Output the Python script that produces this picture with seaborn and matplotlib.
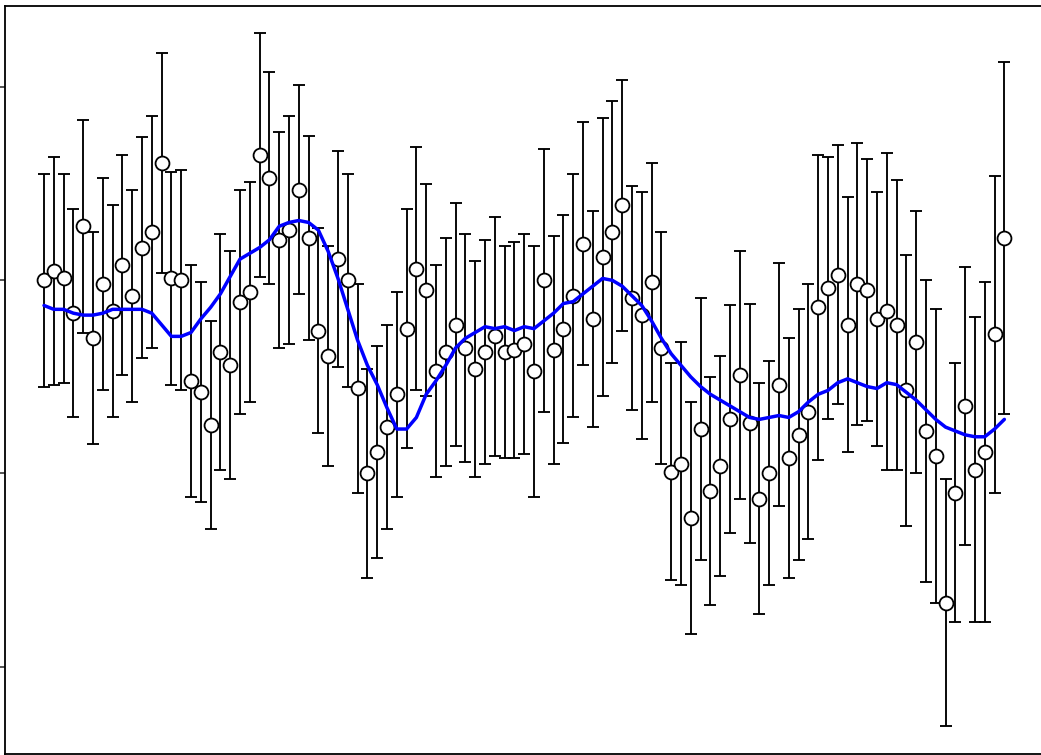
import numpy as np
import pandas as pd
import matplotlib
matplotlib.use("Agg")
import matplotlib.pyplot as plt
import seaborn as sns

values = [
    1.00, 1.05, 1.01, 0.83, 1.28, 0.70, 0.98, 0.84, 1.08, 0.92,
    1.17, 1.25, 1.61, 1.01, 1.00, 0.48, 0.42, 0.25, 0.63, 0.56,
    0.89, 0.94, 1.65, 1.53, 1.21, 1.26, 1.47, 1.22, 0.74, 0.61,
    1.11, 1.00, 0.44, 0.00, 0.11, 0.24, 0.41, 0.75, 1.06, 0.95,
    0.53, 0.63, 0.77, 0.65, 0.54, 0.63, 0.71, 0.63, 0.64, 0.67,
    0.53, 1.00, 0.64, 0.75, 0.92, 1.19, 0.80, 1.12, 1.25, 1.39,
    0.91, 0.82, 0.99, 0.65, 0.01, 0.05, -0.23, 0.23, -0.09, 0.04,
    0.28, 0.51, 0.26, -0.13, 0.00, 0.46, 0.08, 0.20, 0.32, 0.86,
    0.96, 1.03, 0.77, 0.98, 0.95, 0.80, 0.84, 0.77, 0.43, 0.68,
    0.22, 0.09, -0.67, -0.10, 0.35, 0.02, 0.11, 0.72, 1.22,
]

# symmetric error half-widths
errors = [
    0.55, 0.59, 0.54, 0.54, 0.55, 0.55, 0.55, 0.55, 0.57, 0.55,
    0.57, 0.60, 0.57, 0.55, 0.57, 0.60, 0.57, 0.54, 0.61, 0.59,
    0.58, 0.57, 0.63, 0.55, 0.56, 0.59, 0.54, 0.53, 0.53, 0.57,
    0.56, 0.55, 0.54, 0.54, 0.55, 0.53, 0.53, 0.62, 0.63, 0.55,
    0.55, 0.59, 0.63, 0.59, 0.56, 0.58, 0.62, 0.55, 0.56, 0.57,
    0.65, 0.68, 0.59, 0.59, 0.63, 0.63, 0.56, 0.72, 0.68, 0.65,
    0.58, 0.64, 0.62, 0.60, 0.56, 0.63, 0.60, 0.68, 0.59, 0.57,
    0.59, 0.64, 0.62, 0.60, 0.58, 0.63, 0.62, 0.65, 0.66, 0.79,
    0.68, 0.67, 0.66, 0.73, 0.68, 0.66, 0.82, 0.75, 0.70, 0.68,
    0.78, 0.76, 0.64, 0.67, 0.72, 0.79, 0.88, 0.82, 0.91,
]

# smoothed trend (blue line)
trend = [
    0.87, 0.85, 0.85, 0.83, 0.82, 0.82, 0.83, 0.85, 0.85, 0.85,
    0.85, 0.83, 0.77, 0.71, 0.71, 0.73, 0.80, 0.86, 0.93, 1.02,
    1.11, 1.14, 1.17, 1.21, 1.28, 1.30, 1.31, 1.30, 1.26, 1.15,
    1.01, 0.85, 0.69, 0.56, 0.46, 0.34, 0.23, 0.23, 0.29, 0.41,
    0.48, 0.56, 0.65, 0.70, 0.73, 0.76, 0.75, 0.76, 0.74, 0.76,
    0.75, 0.79, 0.83, 0.88, 0.89, 0.93, 0.97, 1.01, 1.00, 0.97,
    0.92, 0.87, 0.79, 0.70, 0.62, 0.56, 0.50, 0.45, 0.41, 0.38,
    0.35, 0.32, 0.29, 0.28, 0.29, 0.30, 0.29, 0.32, 0.37, 0.41,
    0.43, 0.47, 0.49, 0.47, 0.45, 0.44, 0.47, 0.46, 0.42, 0.38,
    0.33, 0.28, 0.24, 0.22, 0.20, 0.19, 0.19, 0.23, 0.28,
]

x = np.arange(len(values))
df = pd.DataFrame({"x": x, "value": values, "err": errors, "trend": trend})

sns.set_style("white")
fig = plt.figure(figsize=(10.41, 7.55), dpi=100)
ax = fig.add_axes([5 / 1041, 1 / 755, 1036 / 1041, 748 / 755])

ax.errorbar(df["x"], df["value"], yerr=df["err"], fmt="none", ecolor="black",
            elinewidth=1.35, capsize=4.6, capthick=1.35, zorder=2)
sns.scatterplot(data=df, x="x", y="value", color="white", edgecolor="black",
                s=100, linewidth=1.3, zorder=3, ax=ax)
sns.lineplot(data=df, x="x", y="trend", color="blue", linewidth=2.5,
             zorder=4, ax=ax)

ax.set_xlim(-3.98, 101.74)
ax.set_ylim(-1.453, 2.421)
ax.set_yticks([-1, 0, 1, 2])
ax.set_yticklabels([])
ax.set_xticks([])
ax.set_xlabel("")
ax.set_ylabel("")
ax.tick_params(axis="y", direction="out", length=3.6, width=1.1, left=True)
for side in ["left", "top", "bottom"]:
    ax.spines[side].set_linewidth(1.3)
    ax.spines[side].set_color("black")
ax.spines["right"].set_visible(False)

fig.savefig("out.png", dpi=100)
